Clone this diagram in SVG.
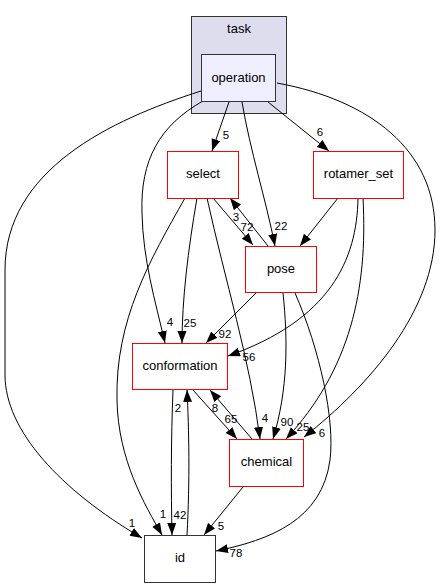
<svg xmlns="http://www.w3.org/2000/svg" width="440" height="588" viewBox="0 0 440 588">
<style>
.n{font-family:"Liberation Sans",Arial,sans-serif;font-size:13px;fill:#000;text-anchor:middle}
.l{font-family:"Liberation Sans",Arial,sans-serif;font-size:11.5px;fill:#000;text-anchor:middle}
.e{fill:none;stroke:#000;stroke-width:1;marker-end:url(#ah)}
.red{fill:#fff;stroke:#ff0000;stroke-width:1}
</style>
<defs>
<marker id="ah" markerUnits="userSpaceOnUse" markerWidth="13" markerHeight="10" refX="12" refY="4.5" orient="auto">
<path d="M0,0 L12,4.5 L0,9 z" fill="#000"/>
</marker>
</defs>
<rect width="440" height="588" fill="#fff"/>
<g id="cluster_task">
<rect x="191.5" y="16.5" width="95" height="97" fill="#ddddee" stroke="#333"/>
<text class="n" x="239" y="33">task</text>
</g>
<g id="edges">
<path class="e" d="M229,102 L212,151"/>
<path class="e" d="M242,102 C250,150 266,200 275,246"/>
<path class="e" d="M268,102 L329,151"/>
<path class="e" d="M203,101 C160,125 140,160 142,213 C143,260 155,300 165,343"/>
<path class="e" d="M201,91 C110,120 5,170 5,270 L5,375 C5,430 60,490 142,538"/>
<path class="e" d="M277,83 C370,100 435,150 435,230 C435,310 370,385 304,437"/>
<path class="e" d="M213,198 L253,245"/>
<path class="e" d="M268,246 L230,198"/>
<path class="e" d="M197,198 C188,250 182,300 182,343"/>
<path class="e" d="M185,198 C150,260 115,320 117,400 C118,460 145,505 162,535"/>
<path class="e" d="M207,198 C225,280 250,360 260,439"/>
<path class="e" d="M338,198 L300,246"/>
<path class="e" d="M358,198 C357,260 330,320 228,356"/>
<path class="e" d="M363,198 C368,290 350,370 286,439"/>
<path class="e" d="M256,293 L206,343"/>
<path class="e" d="M283,293 C288,340 288,390 273,439"/>
<path class="e" d="M295,293 C320,350 335,420 330,460 C322,520 270,540 216,551"/>
<path class="e" d="M193,390 L237,439"/>
<path class="e" d="M252,439 L210,390"/>
<path class="e" d="M173,390 C171,440 171,490 172,535"/>
<path class="e" d="M187,535 C190,480 189,430 187,390"/>
<path class="e" d="M243,487 L204,535"/>
<text class="l" x="226" y="139">5</text>
<text class="l" x="281" y="230">22</text>
<text class="l" x="320" y="136">6</text>
<text class="l" x="247" y="231">72</text>
<text class="l" x="236" y="221">3</text>
<text class="l" x="170" y="326">4</text>
<text class="l" x="190" y="327">25</text>
<text class="l" x="225" y="338">92</text>
<text class="l" x="249" y="361">56</text>
<text class="l" x="178" y="412">2</text>
<text class="l" x="215" y="412">8</text>
<text class="l" x="231" y="423">65</text>
<text class="l" x="265" y="422">4</text>
<text class="l" x="287" y="426">90</text>
<text class="l" x="303" y="431">25</text>
<text class="l" x="322" y="437">6</text>
<text class="l" x="163" y="518">1</text>
<text class="l" x="180" y="519">42</text>
<text class="l" x="132" y="527">1</text>
<text class="l" x="221" y="530">5</text>
<text class="l" x="236" y="557">78</text>
</g>
<g id="operation">
<rect x="201.5" y="54.5" width="74" height="47" fill="#eeeeff" stroke="#333"/>
<text class="n" x="238.5" y="82">operation</text>
</g>
<g id="select">
<rect class="red" x="167.5" y="151.5" width="71" height="47"/>
<text class="n" x="203" y="178">select</text>
</g>
<g id="rotamer_set">
<rect class="red" x="313.5" y="151.5" width="90" height="47"/>
<text class="n" x="358.5" y="178">rotamer_set</text>
</g>
<g id="pose">
<rect class="red" x="245.5" y="246.5" width="71" height="46"/>
<text class="n" x="281" y="273">pose</text>
</g>
<g id="conformation">
<rect class="red" x="132.5" y="343.5" width="95" height="46"/>
<text class="n" x="180" y="370">conformation</text>
</g>
<g id="chemical">
<rect class="red" x="229.5" y="439.5" width="74" height="47"/>
<text class="n" x="266.5" y="466">chemical</text>
</g>
<g id="id">
<rect x="144.5" y="535.5" width="71" height="47" fill="#fff" stroke="#333"/>
<text class="n" x="180" y="562">id</text>
</g>
</svg>
